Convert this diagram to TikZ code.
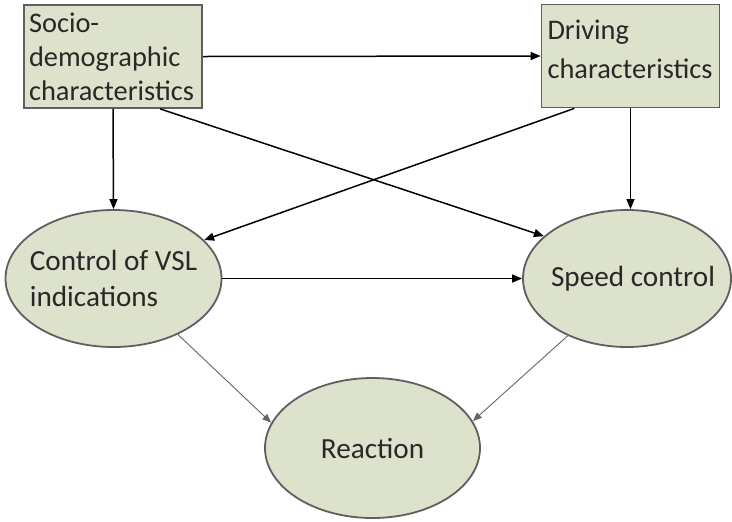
\documentclass[tikz,border=0pt]{standalone}
\usepackage{fontspec}
\setmainfont{Carlito}
\usetikzlibrary{shapes.geometric,arrows.meta}
\definecolor{sage}{RGB}{221,226,204}
\definecolor{rim}{RGB}{95,95,95}
\definecolor{ink}{RGB}{40,40,40}

\begin{document}
\begin{tikzpicture}[x=0.5pt,y=-0.5pt,
  bloc/.style={draw=rim,line width=0.9pt,fill=sage,inner sep=0pt,align=left,text=ink},
  boite/.style={bloc,rectangle,minimum width=89pt,minimum height=51.5pt,
    font=\fontsize{14.2}{17}\selectfont},
  ovale/.style={bloc,ellipse,inner xsep=-8pt,inner ysep=-4pt,
    font=\fontsize{14.6}{18}\selectfont},
  fleche/.style={-{Triangle[length=5pt,width=4pt]},line width=0.75pt},
  fine/.style={-{Triangle[length=4.5pt,width=3.5pt]},line width=0.45pt,black!60}]
\useasboundingbox (0,0) rectangle (732,521);

\node[boite,text width=84pt] (socio) at (113,56.5) {Socio-\\demographic\\characteristics};
\node[boite,text width=83pt,text depth=26pt,font=\fontsize{14.2}{19.5}\selectfont] (driving) at (630.5,56) {Driving\\characteristics};
\node[ovale,minimum width=108pt,minimum height=68.5pt] (vsl) at (113.5,278.5) {Control of VSL\\indications};
\node[ovale,minimum width=104pt,minimum height=68.5pt] (speed) at (627,278.5) {\hspace*{6pt}Speed control};
\node[ovale,minimum width=107.5pt,minimum height=70pt] (reaction) at (372.5,448) {Reaction};

\draw[fleche] (socio.east) -- (driving.west);
\draw[fleche] (socio.south) -- (vsl.north);
\draw[fleche] (socio.-48) -- (speed.153);
\draw[fleche] (driving.-137) -- (vsl.23);
\draw[fleche] (driving.south) -- (speed.north -| driving.south);
\draw[fleche] (vsl.east) -- (speed.west);
\draw[fine] (vsl.-41) -- (reaction.166);
\draw[fine] (speed.-136) -- (reaction.15);
\end{tikzpicture}
\end{document}
